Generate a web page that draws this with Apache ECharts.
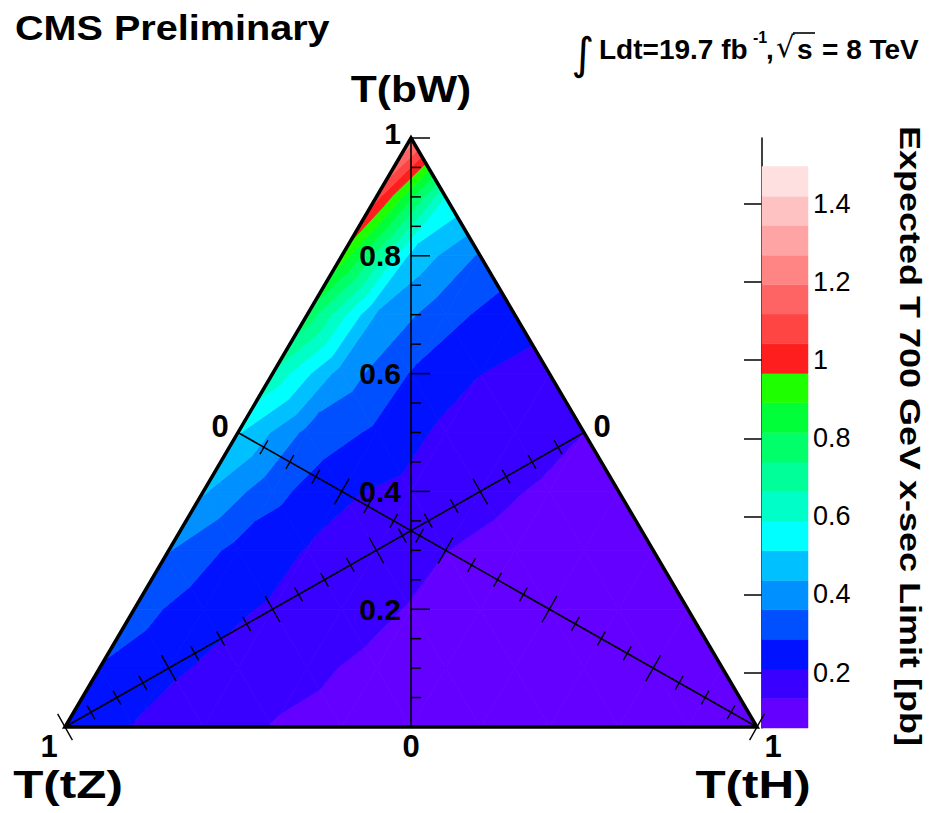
<!DOCTYPE html>
<html>
<head>
<meta charset="utf-8">
<script src="https://cdn.jsdelivr.net/npm/echarts@6/dist/echarts.min.js"></script>
<style>
html,body{margin:0;padding:0;background:#fff;}
#chart{width:941px;height:813px;}
</style>
</head>
<body>
<div id="chart"></div>
<script>
// ===== Data =====
// Expected T (700 GeV) x-sec limit [pb] on a ternary lattice.
// Each row has a fixed BR(T->bW); entries run over BR(T->tH) = 0, 0.1, 0.2, ... (BR(tZ) = 1 - bW - tH)
const limitBW00 = [0.24, 0.205, 0.165, 0.131, 0.115, 0.10, 0.09, 0.082, 0.076, 0.072, 0.068];
const limitBW01 = [0.28, 0.22, 0.185, 0.145, 0.12, 0.105, 0.095, 0.087, 0.08, 0.075];
const limitBW02 = [0.32, 0.235, 0.20, 0.16, 0.13, 0.11, 0.097, 0.088, 0.08];
const limitBW03 = [0.365, 0.26, 0.205, 0.17, 0.135, 0.115, 0.10, 0.09];
const limitBW04 = [0.445, 0.31, 0.22, 0.185, 0.15, 0.125, 0.11];
const limitBW05 = [0.52, 0.34, 0.27, 0.19, 0.165, 0.134];
const limitBW06 = [0.65, 0.40, 0.28, 0.21, 0.18];
const limitBW07 = [0.79, 0.43, 0.31, 0.24];
const limitBW08 = [0.94, 0.49, 0.35];
const limitBW09 = [1.07, 0.59];
const limitBW10 = [1.25];
const limitRows = [limitBW00, limitBW01, limitBW02, limitBW03, limitBW04, limitBW05,
                   limitBW06, limitBW07, limitBW08, limitBW09, limitBW10];

// contour levels (band edges) of the colour scale
const contourLevels = [0.058, 0.134, 0.209, 0.285, 0.361, 0.436, 0.512, 0.588, 0.663, 0.739,
                       0.815, 0.891, 0.966, 1.042, 1.118, 1.193, 1.269, 1.345, 1.420, 1.496];
// axis ticks / labels
const axisTickValues = [0, 0.05, 0.1, 0.15, 0.2, 0.25, 0.3, 0.35, 0.4, 0.45, 0.5,
                        0.55, 0.6, 0.65, 0.7, 0.75, 0.8, 0.85, 0.9, 0.95, 1];
const bwLabelValues = [0, 0.2, 0.4, 0.6, 0.8, 1];
const bwLabelTexts = ['0', '0.2', '0.4', '0.6', '0.8', '1'];
const colorbarLabelValues = [0.2, 0.4, 0.6, 0.8, 1, 1.2, 1.4];

// ===== Styles =====
const bandColors = ['#6400ff', '#3a00ff', '#0012ff', '#0050ff', '#0090ff', '#00c0ff', '#00ffff',
                    '#00ffc8', '#00ff98', '#00ff68', '#00ff38', '#1eff00', '#ff1e1e', '#ff4444',
                    '#ff6464', '#ff8484', '#ffa4a4', '#ffc2c2', '#ffe0e0'];
const FONT = '"Liberation Sans", Arial, Helvetica, sans-serif';

// ===== Build lattice triangles (data space: x = tH + bW/2, y = bW) =====
const N = limitRows.length - 1;
function latticePoint(i, k) { return [k / N + i / (2 * N), i / N, limitRows[i][k]]; }
const tris = [];
for (let i = 0; i < N; i++) {
  for (let k = 0; k < N - i; k++) {
    tris.push([latticePoint(i, k), latticePoint(i, k + 1), latticePoint(i + 1, k)]);
    if (k < N - 1 - i) tris.push([latticePoint(i, k + 1), latticePoint(i + 1, k + 1), latticePoint(i + 1, k)]);
  }
}
function clipPoly(poly, level, keepAbove) {
  const out = [];
  for (let j = 0; j < poly.length; j++) {
    const a = poly[j], b = poly[(j + 1) % poly.length];
    const ina = keepAbove ? a[2] >= level : a[2] <= level;
    const inb = keepAbove ? b[2] >= level : b[2] <= level;
    if (ina) out.push(a);
    if (ina !== inb) {
      const t = (level - a[2]) / (b[2] - a[2]);
      out.push([a[0] + t * (b[0] - a[0]), a[1] + t * (b[1] - a[1]), level]);
    }
  }
  return out;
}

// ternary axes in data space: start (value 0) and end (value 1)
const ternaryAxes = [
  { key: 'bW', from: [0.5, 0], to: [0.5, 1] },
  { key: 'tZ', from: [0.75, 0.5], to: [0, 0] },
  { key: 'tH', from: [0.25, 0.5], to: [1, 0] }
];

function isMajor(v) { return Math.abs(v * 5 - Math.round(v * 5)) < 1e-6; }

const chart = echarts.init(document.getElementById('chart'), null, { renderer: 'svg' });

const option = {
  animation: false,
  backgroundColor: '#fff',
  grid: [
    { left: 65, right: 184, top: 138, bottom: 86 },
    { left: 762, right: 133, top: 138, bottom: 85 }
  ],
  xAxis: [
    { gridIndex: 0, type: 'value', min: 0, max: 1, show: false },
    { gridIndex: 1, type: 'value', min: 0, max: 1, show: false }
  ],
  yAxis: [
    { gridIndex: 0, type: 'value', min: 0, max: 1, show: false },
    {
      gridIndex: 1, type: 'value', min: 0.058, max: 1.569, position: 'right',
      axisLine: { show: true, lineStyle: { color: '#000', width: 1.5 } },
      axisTick: { show: true, inside: true, length: 18, customValues: colorbarLabelValues,
                  lineStyle: { color: '#000', width: 1.5 } },
      axisLabel: { show: true, customValues: colorbarLabelValues, margin: 5, color: '#000',
                   fontSize: 27, fontFamily: FONT,
                   formatter: function (v) { return String(Math.round(v * 10) / 10); } },
      splitLine: { show: false }
    }
  ],
  series: [
    {
      type: 'custom', name: 'contours', xAxisIndex: 0, yAxisIndex: 0, clip: false, z: 1,
      data: tris.map(function (t, i) { return [i]; }),
      renderItem: function (params, api) {
        const tri = tris[params.dataIndex];
        const children = [];
        for (let b = 0; b < bandColors.length; b++) {
          let poly = clipPoly(tri, contourLevels[b], true);
          if (poly.length < 3) continue;
          poly = clipPoly(poly, contourLevels[b + 1], false);
          if (poly.length < 3) continue;
          children.push({
            type: 'polygon',
            shape: { points: poly.map(function (p) { return api.coord([p[0], p[1]]); }) },
            style: { fill: bandColors[b], stroke: bandColors[b], lineWidth: 0.8 }
          });
        }
        return { type: 'group', children: children };
      }
    },
    {
      type: 'custom', name: 'ternaryAxes', xAxisIndex: 0, yAxisIndex: 0, clip: false, z: 5,
      data: ternaryAxes.map(function (a, i) { return [i]; }),
      renderItem: function (params, api) {
        const ax = ternaryAxes[params.dataIndex];
        const p0 = api.coord(ax.from), p1 = api.coord(ax.to);
        const dx = p1[0] - p0[0], dy = p1[1] - p0[1];
        const len = Math.sqrt(dx * dx + dy * dy);
        const ux = dx / len, uy = dy / len;
        const nx = -uy, ny = ux;
        const children = [{
          type: 'line', shape: { x1: p0[0], y1: p0[1], x2: p1[0], y2: p1[1] },
          style: { stroke: '#000', lineWidth: 1.6 }
        }];
        axisTickValues.forEach(function (v) {
          const px = p0[0] + v * dx, py = p0[1] + v * dy;
          const major = isMajor(v);
          if (ax.key === 'bW') {
            const L = major ? 19 : 10;
            children.push({ type: 'line', shape: { x1: px, y1: py, x2: px + L, y2: py },
                            style: { stroke: '#000', lineWidth: 1.5 } });
          } else {
            const h = major ? 15 : 8;
            children.push({ type: 'line', shape: { x1: px - nx * h, y1: py - ny * h, x2: px + nx * h, y2: py + ny * h },
                            style: { stroke: '#000', lineWidth: 1.4 } });
          }
        });
        const labelFont = 'bold 30px ' + FONT;
        const endFont = 'bold 31px ' + FONT;
        if (ax.key === 'bW') {
          bwLabelValues.forEach(function (v, j) {
            const px = p0[0] + v * dx, py = p0[1] + v * dy;
            if (v === 0) {
              children.push({ type: 'text', x: px, y: py + 19,
                style: { text: bwLabelTexts[j], font: endFont, fill: '#000', align: 'center', verticalAlign: 'middle' } });
            } else {
              children.push({ type: 'text', x: px - 10, y: py + (v === 1 ? -5 : 0),
                style: { text: bwLabelTexts[j], font: labelFont, fill: '#000', align: 'right', verticalAlign: 'middle' } });
            }
          });
        } else {
          const sgn = ax.key === 'tZ' ? 1 : -1;
          children.push({ type: 'text', x: p0[0] + sgn * 18, y: p0[1] - 6,
            style: { text: '0', font: endFont, fill: '#000', align: 'center', verticalAlign: 'middle' } });
          children.push({ type: 'text', x: p1[0] - sgn * 16, y: p1[1] + 19,
            style: { text: '1', font: endFont, fill: '#000', align: 'center', verticalAlign: 'middle' } });
        }
        return { type: 'group', children: children };
      }
    },
    {
      type: 'custom', name: 'frame', xAxisIndex: 0, yAxisIndex: 0, clip: false, z: 6,
      data: [[0]],
      renderItem: function (params, api) {
        return {
          type: 'polygon',
          shape: { points: [api.coord([0, 0]), api.coord([1, 0]), api.coord([0.5, 1])] },
          style: { fill: 'none', stroke: '#000', lineWidth: 3.5, lineJoin: 'miter', miterLimit: 20 }
        };
      }
    },
    {
      type: 'custom', name: 'colorbar', xAxisIndex: 1, yAxisIndex: 1, clip: false, z: 1,
      data: bandColors.map(function (c, i) { return [i]; }),
      renderItem: function (params, api) {
        const b = params.dataIndex;
        const a = api.coord([0, contourLevels[b]]);
        const c = api.coord([1, contourLevels[b + 1]]);
        return {
          type: 'rect',
          shape: { x: a[0], y: c[1], width: c[0] - a[0], height: a[1] - c[1] },
          style: { fill: bandColors[b], stroke: bandColors[b], lineWidth: 0.5 }
        };
      }
    }
  ],
  graphic: [
    { type: 'text', silent: true, x: 15, y: 28, scaleX: 1.1,
      style: { text: 'CMS Preliminary', font: 'bold 36px ' + FONT, fill: '#000', align: 'left', verticalAlign: 'middle' } },
    { type: 'text', silent: true, x: 411, y: 89, scaleX: 1.15,
      style: { text: 'T(bW)', font: 'bold 37px ' + FONT, fill: '#000', align: 'center', verticalAlign: 'middle' } },
    { type: 'text', silent: true, x: 68, y: 785, scaleX: 1.3,
      style: { text: 'T(tZ)', font: 'bold 38px ' + FONT, fill: '#000', align: 'center', verticalAlign: 'middle' } },
    { type: 'text', silent: true, x: 753, y: 785, scaleX: 1.3,
      style: { text: 'T(tH)', font: 'bold 38px ' + FONT, fill: '#000', align: 'center', verticalAlign: 'middle' } },
    { type: 'text', silent: true, x: 910, y: 436, rotation: -Math.PI / 2, scaleX: 1.2,
      style: { text: 'Expected T 700 GeV x-sec Limit [pb]', font: 'bold 30px ' + FONT, fill: '#000', align: 'center', verticalAlign: 'middle' } },
    // luminosity / energy label
    { type: 'text', silent: true, x: 583, y: 53,
      style: { text: '\u222B', font: '44px "DejaVu Sans", sans-serif', fill: '#000', align: 'center', verticalAlign: 'middle' } },
    { type: 'text', silent: true, x: 599, y: 49,
      style: { text: 'Ldt=19.7 fb', font: 'bold 28px ' + FONT, fill: '#000', align: 'left', verticalAlign: 'middle' } },
    { type: 'text', silent: true, x: 753, y: 37,
      style: { text: '-1', font: 'bold 16px ' + FONT, fill: '#000', align: 'left', verticalAlign: 'middle' } },
    { type: 'text', silent: true, x: 766, y: 49,
      style: { text: ',', font: 'bold 28px ' + FONT, fill: '#000', align: 'left', verticalAlign: 'middle' } },
    { type: 'text', silent: true, x: 776, y: 47,
      style: { text: '\u221A', font: '29px "DejaVu Sans", sans-serif', fill: '#000', align: 'left', verticalAlign: 'middle' } },
    { type: 'line', silent: true, shape: { x1: 793, y1: 33, x2: 815, y2: 33 }, style: { stroke: '#000', lineWidth: 1.6 } },
    { type: 'text', silent: true, x: 797, y: 49,
      style: { text: 's', font: 'bold 28px ' + FONT, fill: '#000', align: 'left', verticalAlign: 'middle' } },
    { type: 'text', silent: true, x: 822, y: 49,
      style: { text: '= 8 TeV', font: 'bold 28px ' + FONT, fill: '#000', align: 'left', verticalAlign: 'middle' } }
  ]
};
chart.setOption(option);
</script>
</body>
</html>
